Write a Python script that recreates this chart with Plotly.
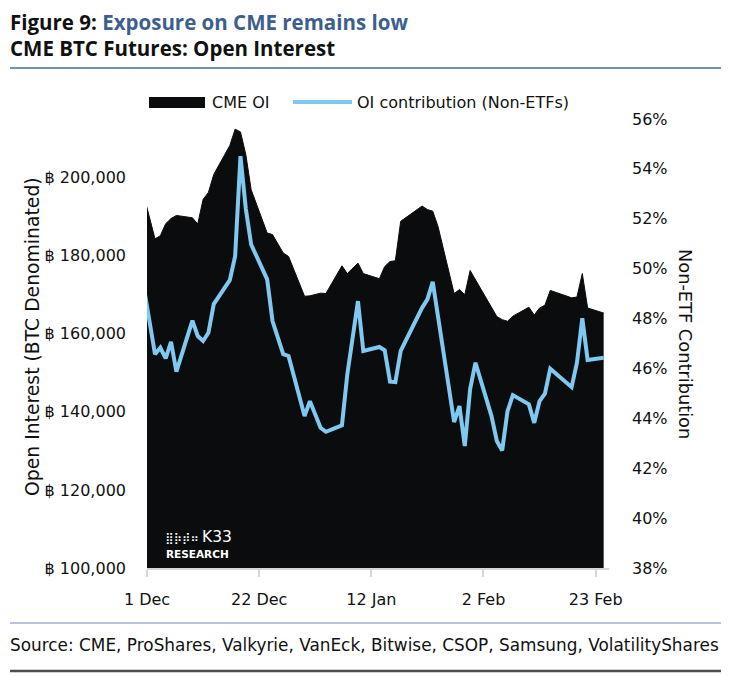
import pandas as pd
import plotly.graph_objects as go

# ---------------- data ----------------
dates = ["2024-11-29", "2024-12-02", "2024-12-03", "2024-12-04", "2024-12-05", "2024-12-06",
         "2024-12-09", "2024-12-10", "2024-12-11", "2024-12-12", "2024-12-13",
         "2024-12-16", "2024-12-17", "2024-12-18", "2024-12-19", "2024-12-20",
         "2024-12-23", "2024-12-24", "2024-12-26", "2024-12-27",
         "2024-12-30", "2024-12-31", "2025-01-02", "2025-01-03",
         "2025-01-06", "2025-01-07", "2025-01-09", "2025-01-10",
         "2025-01-13", "2025-01-14", "2025-01-15", "2025-01-16", "2025-01-17",
         "2025-01-21", "2025-01-22", "2025-01-23", "2025-01-24",
         "2025-01-27", "2025-01-28", "2025-01-29", "2025-01-30", "2025-01-31",
         "2025-02-03", "2025-02-04", "2025-02-05", "2025-02-06", "2025-02-07",
         "2025-02-10", "2025-02-11", "2025-02-12", "2025-02-13", "2025-02-14",
         "2025-02-18", "2025-02-19", "2025-02-20", "2025-02-21", "2025-02-24"]

cme_oi = [200200, 184300, 185100, 188200, 189500, 190300,
          189700, 188100, 194400, 196200, 200800,
          208200, 212400, 211700, 205900, 196900,
          185800, 185400, 180700, 179800,
          169600, 169700, 170400, 170300,
          177400, 175400, 178100, 175400,
          174100, 177200, 178500, 178700, 188800,
          192700, 191800, 191400, 187400,
          170300, 171300, 170000, 176200, 173800,
          166800, 164400, 163600, 163200, 164500,
          166800, 164800, 166600, 167300, 171100,
          169200, 169400, 175400, 166600, 165300]

non_etf_pct = [50.4, 46.57, 46.83, 46.40, 47.07, 45.87,
               47.92, 47.30, 47.10, 47.43, 48.58,
               49.54, 50.50, 54.51, 52.40, 50.97,
               49.57, 47.90, 46.57, 46.50,
               44.09, 44.69, 43.62, 43.46,
               43.72, 45.76, 48.70, 46.70,
               46.86, 46.73, 45.47, 45.45, 46.70,
               48.43, 48.77, 49.47, 48.06,
               43.85, 44.49, 42.89, 45.17, 46.23,
               44.09, 43.09, 42.71, 44.29, 44.93,
               44.56, 43.82, 44.69, 44.99, 45.99,
               45.25, 46.23, 48.01, 46.34, 46.43]

x_tick_dates = ["2024-12-01", "2024-12-22", "2025-01-12", "2025-02-02", "2025-02-23"]
x_tick_labels = ["1 Dec", "22 Dec", "12 Jan", "2 Feb", "23 Feb"]

left_ticks = [100000, 120000, 140000, 160000, 180000, 200000]
left_tick_labels = ["฿ 100,000", "฿ 120,000", "฿ 140,000", "฿ 160,000", "฿ 180,000", "฿ 200,000"]
right_ticks = [38, 40, 42, 44, 46, 48, 50, 52, 54, 56]
right_tick_labels = [f"{v}%" for v in right_ticks]

# ---------------- style ----------------
FONT = "DejaVu Sans"
TITLE_FONT = "Open Sans"
BLACK = "#0a0c0e"
BLUE = "#7fc8ef"
TITLE_BLUE = "#3c5f8e"
PAGE_W, PAGE_H = 732, 676
OFF = 8                      # default body margin of the page
W, H = PAGE_W - OFF, PAGE_H - OFF
L, R, T, B = 147, 609, 119, 568   # plot area in page pixels


def px(x):
    return (x - L) / (R - L)


def py(y):
    return (B - y) / (B - T)


# points sit in the middle of each day (date axis "between tick marks")
xs = pd.to_datetime(dates) + pd.Timedelta(hours=12)

fig = go.Figure()
fig.add_trace(go.Scatter(
    x=xs, y=cme_oi, mode="lines", fill="tozeroy",
    line=dict(color=BLACK, width=1), fillcolor=BLACK,
    name="CME OI", showlegend=False, yaxis="y"))
fig.add_trace(go.Scatter(
    x=xs, y=non_etf_pct, mode="lines",
    line=dict(color=BLUE, width=4),
    name="OI contribution (Non-ETFs)", showlegend=False, yaxis="y2"))

annotations = [
    dict(text="<b>Figure 9: </b><b><span style='color:%s'>Exposure on CME remains low</span></b>" % TITLE_BLUE,
         x=px(9), y=py(22), xanchor="left", yanchor="middle",
         font=dict(size=20.5, color="#111", family=TITLE_FONT)),
    dict(text="<b>CME BTC Futures: Open Interest</b>",
         x=px(9), y=py(48), xanchor="left", yanchor="middle",
         font=dict(size=20.5, color="#111", family=TITLE_FONT)),
    dict(text="Source: CME, ProShares, Valkyrie, VanEck, Bitwise, CSOP, Samsung, VolatilityShares",
         x=px(9), y=py(645), xanchor="left", yanchor="middle", font=dict(size=16.9, color="#111")),
    dict(text="Open Interest (BTC Denominated)", textangle=-90,
         x=px(32), y=py(337), xanchor="center", yanchor="middle", font=dict(size=18.8, color="#111")),
    dict(text="Non-ETF Contribution", textangle=90,
         x=px(686), y=py(344), xanchor="center", yanchor="middle", font=dict(size=17.8, color="#111")),
    dict(text="CME OI", x=px(211), y=py(102), xanchor="left", yanchor="middle",
         font=dict(size=16, color="#111")),
    dict(text="OI contribution (Non-ETFs)", x=px(356), y=py(102), xanchor="left", yanchor="middle",
         font=dict(size=16, color="#111")),
    dict(text="⣿⡷⡾⠶", x=px(164), y=py(538), xanchor="left", yanchor="middle",
         font=dict(size=11.5, color="white")),
    dict(text="K33", x=px(201), y=py(547), xanchor="left", yanchor="bottom",
         font=dict(size=15.5, color="white")),
    dict(text="<b>RESEARCH</b>", x=px(165), y=py(547), xanchor="left", yanchor="top",
         font=dict(size=10.5, color="white")),
]
for a in annotations:
    a.update(xref="paper", yref="paper", showarrow=False, borderpad=0)
    a["font"].setdefault("family", FONT)

shapes = [
    dict(type="rect", x0=px(149), x1=px(205), y0=py(97), y1=py(108),
         fillcolor=BLACK, line=dict(width=0)),
    dict(type="line", x0=px(293), x1=px(352), y0=py(102), y1=py(102),
         line=dict(color=BLUE, width=4)),
    dict(type="line", x0=px(10), x1=px(721), y0=py(68), y1=py(68),
         line=dict(color="#4a6a96", width=1.5)),
    dict(type="line", x0=px(10), x1=px(721), y0=py(623), y1=py(623),
         line=dict(color="#6f8cb3", width=1.2)),
    dict(type="line", x0=px(10), x1=px(721), y0=py(671), y1=py(671),
         line=dict(color="#4d4d4d", width=2.5)),
]
for s in shapes:
    s.update(xref="paper", yref="paper", layer="above")

fig.update_layout(
    width=W, height=H,
    margin=dict(l=L - OFF, r=PAGE_W - R, t=T - OFF, b=PAGE_H - B, pad=0),
    paper_bgcolor="white", plot_bgcolor="white",
    font=dict(family=FONT, size=16, color="#111"),
    showlegend=False,
    xaxis=dict(type="date", range=["2024-12-01", "2025-02-25 12:00"],
               tickvals=x_tick_dates, ticktext=x_tick_labels,
               ticks="outside", ticklen=7, tickwidth=1.5, tickcolor="#d6d6d6",
               showline=True, linecolor="#d6d6d6", linewidth=2,
               showgrid=False, zeroline=False, tickfont=dict(size=16),
               ticklabelstandoff=9),
    yaxis=dict(range=[100000, 215000], tickvals=left_ticks, ticktext=left_tick_labels,
               showgrid=False, zeroline=False, showline=False, ticks="",
               tickfont=dict(size=16), ticklabelstandoff=20),
    yaxis2=dict(range=[38, 56], tickvals=right_ticks, ticktext=right_tick_labels,
                overlaying="y", side="right",
                showgrid=False, zeroline=False, showline=False, ticks="",
                tickfont=dict(size=16), ticklabelstandoff=22),
    annotations=annotations,
    shapes=shapes,
)

fig.write_html("out.html")
